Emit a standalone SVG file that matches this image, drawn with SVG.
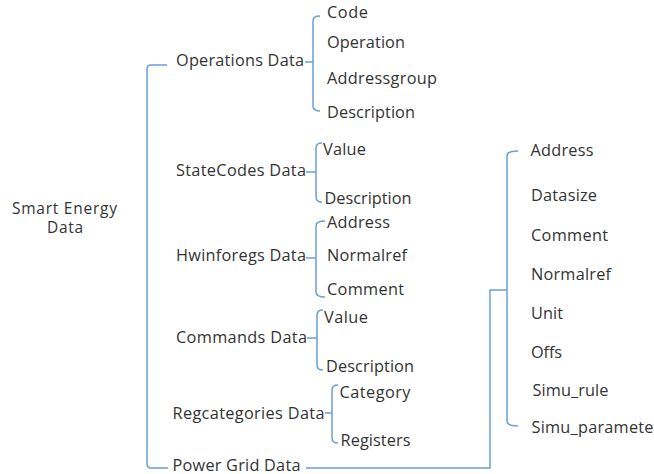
<svg xmlns="http://www.w3.org/2000/svg" width="654" height="474" viewBox="0 0 654 474">
<style>
text{font-family:"Open Sans","Liberation Sans",sans-serif;font-size:16.3px;fill:#333333}
.root{font-size:15.5px}
.c{fill:none;stroke:#6b9fd8;stroke-width:1.5}
</style>
<rect width="654" height="474" fill="#ffffff"/>
<g id="connectors">
<path class="c" d="M167,65 H151 Q147,65 147,69 V464 Q147,468 151,468 H168"/>
<path class="c" d="M305,62 H313 M320,16 Q313,16 313,21 V106 Q313,111 320,111"/>
<path class="c" d="M306,172 H316 M322,143 Q316,143 316,148 V197 Q316,202 322,202"/>
<path class="c" d="M306,258 H316 M325,221 Q316,221 316,226 V292 Q316,297 325,297"/>
<path class="c" d="M307,338 H317 M323,310 Q317,310 317,315 V365 Q317,370 323,370"/>
<path class="c" d="M325,413 H332 M338,385 Q332,385 332,390 V438 Q332,443 338,443"/>
<path class="c" d="M306,468 H490 V290 H507 M518,151 Q507,151 507,156 V421 Q507,426 518,426"/>
</g>
<g id="root"><text class="root" x="12" y="214" textLength="105">Smart Energy</text><text class="root" x="47" y="232.5" textLength="36">Data</text></g>
<g id="operations"><text x="176" y="66" textLength="128">Operations Data</text></g>
<g id="operations-children">
<text x="327" y="18" textLength="41">Code</text>
<text x="327" y="47.5" textLength="78">Operation</text>
<text x="327" y="84" textLength="110">Addressgroup</text>
<text x="327" y="118" textLength="88">Description</text>
</g>
<g id="statecodes"><text x="176" y="176" textLength="130">StateCodes Data</text></g>
<g id="statecodes-children">
<text x="323" y="155" textLength="43">Value</text>
<text x="324.5" y="203.5" textLength="87">Description</text>
</g>
<g id="hwinforegs"><text x="176" y="261" textLength="130">Hwinforegs Data</text></g>
<g id="hwinforegs-children">
<text x="327" y="228" textLength="63">Address</text>
<text x="327" y="261" textLength="80">Normalref</text>
<text x="327" y="295" textLength="77">Comment</text>
</g>
<g id="commands"><text x="176" y="343" textLength="131">Commands Data</text></g>
<g id="commands-children">
<text x="324" y="323" textLength="44">Value</text>
<text x="326" y="371.5" textLength="88">Description</text>
</g>
<g id="regcategories"><text x="172.5" y="419" textLength="152">Regcategories Data</text></g>
<g id="regcategories-children">
<text x="339.5" y="398" textLength="71">Category</text>
<text x="340.5" y="446" textLength="70">Registers</text>
</g>
<g id="powergrid"><text x="172.5" y="470.5" textLength="128">Power Grid Data</text></g>
<g id="powergrid-children">
<text x="530.5" y="156" textLength="63">Address</text>
<text x="531" y="200.5" textLength="66">Datasize</text>
<text x="531" y="241" textLength="77">Comment</text>
<text x="531" y="280" textLength="80">Normalref</text>
<text x="531" y="319" textLength="32">Unit</text>
<text x="531" y="358" textLength="31">Offs</text>
<text x="532.5" y="396" textLength="76">Simu_rule</text>
<text x="531.5" y="432.5" textLength="122">Simu_paramete</text>
</g>
</svg>
